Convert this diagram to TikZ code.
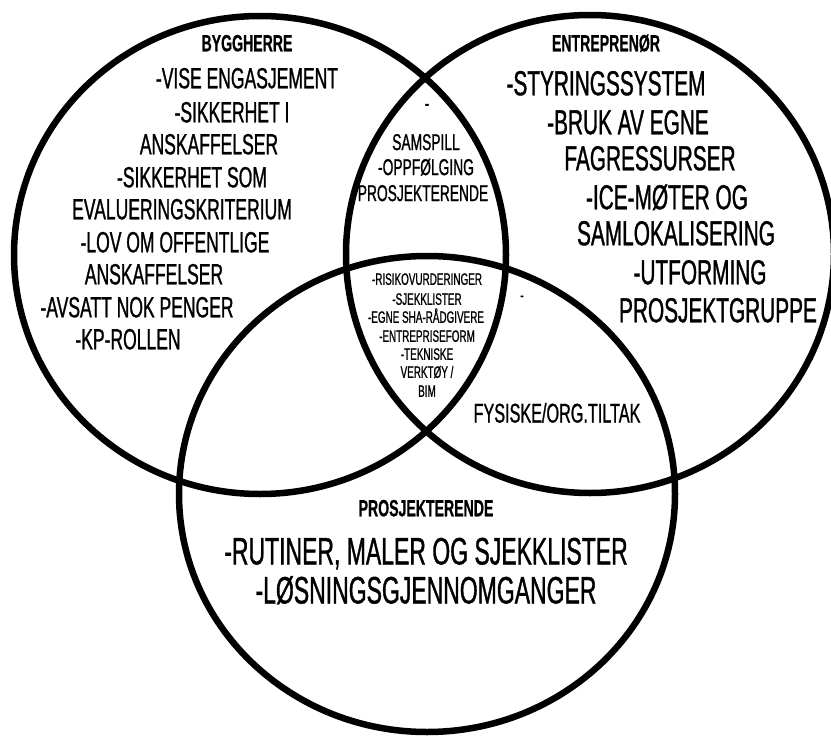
\documentclass[tikz,border=0pt]{standalone}
\usepackage{fontspec}
\setmainfont{Liberation Sans}[FakeStretch=0.6, FakeBold=0.9,
  BoldFeatures={FakeStretch=0.6, FakeBold=0.6}]
\usetikzlibrary{shapes.geometric}

\tikzset{
  ring/.style={draw, line width=6.5pt, ellipse, inner sep=0pt},
  txt/.style={inner sep=0pt, outer sep=0pt, text depth=0pt, anchor=center},
  head/.style={txt, font=\bfseries\fontsize{23.5}{23.5}\selectfont, text height=16.6pt},
  bygg/.style={txt, font=\fontsize{29.2}{29.2}\selectfont, text height=20.6pt},
  entr/.style={txt, font=\fontsize{34.7}{34.7}\selectfont, text height=24.5pt},
  samspill/.style={txt, font=\fontsize{23}{23}\selectfont, text height=16.2pt},
  felles/.style={txt, font=\fontsize{16.5}{16.5}\selectfont, text height=11.6pt},
  tiltak/.style={txt, font=\fontsize{27}{27}\selectfont, text height=19pt},
  prosj/.style={txt, font=\fontsize{38.3}{38.3}\selectfont, text height=27pt},
}

\begin{document}
\begin{tikzpicture}[x=1pt, y=-1pt]
  \fill[white] (0,0) rectangle (831,736);
  \useasboundingbox (0,0) rectangle (831,736);

  % the three circles
  \node[ring, minimum width=492pt, minimum height=478pt] (byggherre) at (260,255) {};
  \node[ring, minimum width=488pt, minimum height=478pt] (entreprenor) at (590,254) {};
  \node[ring, minimum width=496pt, minimum height=476pt] (prosjekterende) at (427,494) {};

  % Byggherre
  \node[head] (hb) at (247,43) {BYGGHERRE};
  \node[bygg] (b1) at (247,78)  {-VISE ENGASJEMENT};
  \node[bygg] (b2) at (232,112) {-SIKKERHET I};
  \node[bygg] (b3) at (209,144) {ANSKAFFELSER};
  \node[bygg] (b4) at (192,177) {-SIKKERHET SOM};
  \node[bygg] (b5) at (182,209) {EVALUERINGSKRITERIUM};
  \node[bygg] (b6) at (175,242) {-LOV OM OFFENTLIGE};
  \node[bygg] (b7) at (154,274) {ANSKAFFELSER};
  \node[bygg] (b8) at (137,307) {-AVSATT NOK PENGER};
  \node[bygg] (b9) at (128,339) {-KP-ROLLEN};

  % Entreprenør
  \node[head] (he) at (606,43) {ENTREPRENØR};
  \node[entr] (e1) at (606,83)  {-STYRINGSSYSTEM};
  \node[entr] (e2) at (628,122) {-BRUK AV EGNE};
  \node[entr] (e3) at (650,158) {FAGRESSURSER};
  \node[entr] (e4) at (667,197) {-ICE-MØTER OG};
  \node[entr] (e5) at (676,233) {SAMLOKALISERING};
  \node[entr] (e6) at (700,272) {-UTFORMING};
  \node[entr] (e7) at (718,310) {PROSJEKTGRUPPE};

  % Byggherre and entreprenør
  \node[samspill] (t0) at (427,103) {-};
  \node[samspill] (t1) at (426,142) {SAMSPILL};
  \node[samspill] (t2) at (426,167) {-OPPFØLGING};
  \node[samspill] (t3) at (423,193) {PROSJEKTERENDE};

  % all three
  \node[felles] (c1) at (427,279) {-RISIKOVURDERINGER};
  \node[felles] (c2) at (427,299) {-SJEKKLISTER};
  \node[felles] (c3) at (426,317) {-EGNE SHA-RÅDGIVERE};
  \node[felles] (c4) at (427,336) {-ENTREPRISEFORM};
  \node[felles] (c5) at (427,354) {-TEKNISKE};
  \node[felles] (c6) at (427,372) {VERKTØY /};
  \node[felles] (c7) at (427,391) {BIM};

  % entreprenør and prosjekterende
  \node[felles] (d0) at (522,295) {-};
  \node[tiltak] (d1) at (557,413) {FYSISKE/ORG.TILTAK};

  % Prosjekterende
  \node[head] (hp) at (426,508) {PROSJEKTERENDE};
  \node[prosj] (p1) at (426,551) {-RUTINER, MALER OG SJEKKLISTER};
  \node[prosj] (p2) at (426,590) {-LØSNINGSGJENNOMGANGER};
\end{tikzpicture}
\end{document}
